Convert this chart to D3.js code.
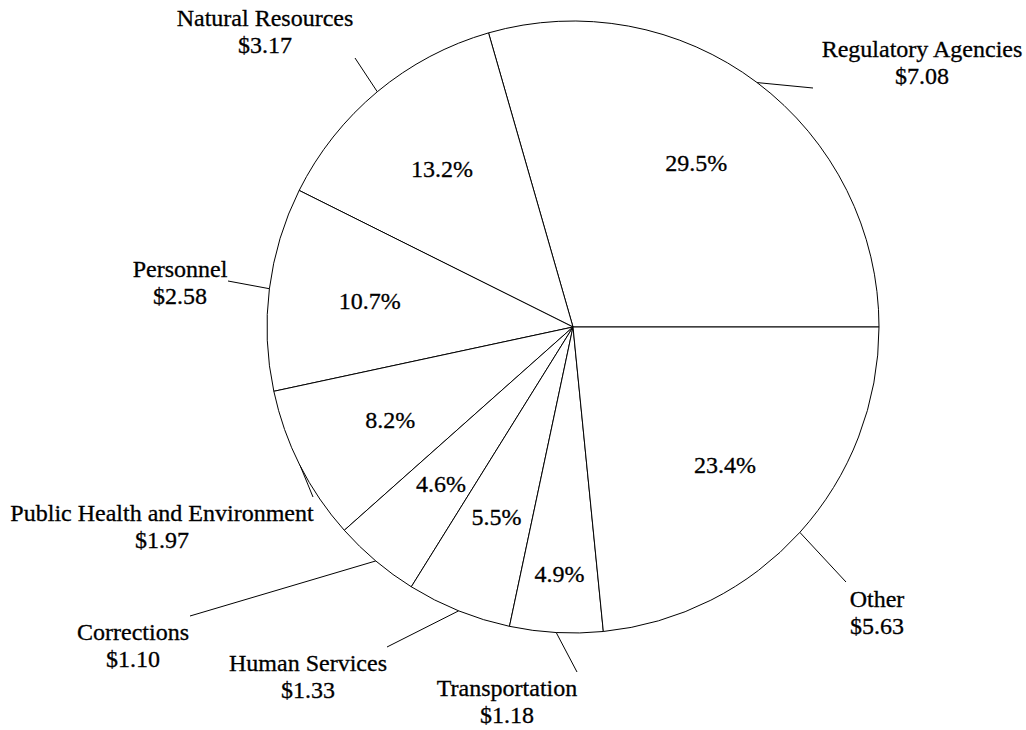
<!DOCTYPE html>
<meta charset="utf-8">
<style>
body { margin: 0; background: #fff; }
.slices path { fill: #fff; stroke: #000; stroke-width: 1px; }
.leaders line { stroke: #000; stroke-width: 1px; }
</style>
<svg></svg>
<script src="https://d3js.org/d3.v7.min.js"></script>
<script>

var categories = ["Regulatory Agencies", "Natural Resources", "Personnel",
  "Public Health and Environment", "Corrections", "Human Services",
  "Transportation", "Other"];
var amounts = [7.08, 3.17, 2.58, 1.97, 1.10, 1.33, 1.18, 5.63];

var width = 1026, height = 730;
var cx = 573, cy = 327, radius = 306;
var serif = "'Liberation Serif', 'Times New Roman', Times, serif";

// hand placed label spots, relative to pie centre (like the original)
var layout = {
  "Regulatory Agencies":           {end: [240, -239], label: [349, -270]},
  "Natural Resources":             {end: [-218, -269], label: [-308, -301]},
  "Personnel":                     {end: [-345, -46], label: [-393, -50]},
  "Public Health and Environment": {end: [-260, 170], label: [-411, 194]},
  "Corrections":                   {end: [-383, 289], label: [-440, 313]},
  "Human Services":                {end: [-186, 320], label: [-265, 344]},
  "Transportation":                {end: [4, 345], label: [-66, 369]},
  "Other":                         {end: [273, 255], label: [304, 280]}
};
var pctRadius = {"Transportation": 247};

var svg = d3.select("svg")
    .attr("width", width)
    .attr("height", height)
    .attr("font-family", serif)
    .attr("font-size", 24);

var g = svg.append("g")
    .attr("transform", "translate(" + cx + "," + cy + ")");

var total = d3.sum(amounts);
var data = categories.map(function(c, i) { return {name: c, value: amounts[i]}; });

var pie = d3.pie()
    .sort(null)
    .value(function(d) { return d.value; })
    .startAngle(Math.PI / 2)
    .endAngle(Math.PI / 2 - 2 * Math.PI);

var arcs = pie(data);

var arc = d3.arc().innerRadius(0).outerRadius(radius);

g.append("g").attr("class", "slices")
  .selectAll("path")
  .data(arcs)
  .enter().append("path")
    .attr("d", arc);

function polar(a, r) { return [Math.sin(a) * r, -Math.cos(a) * r]; }
function mid(d) { return (d.startAngle + d.endAngle) / 2; }

// leader lines
g.append("g").attr("class", "leaders")
  .selectAll("line")
  .data(arcs)
  .enter().append("line")
    .attr("x1", function(d) { return polar(mid(d), radius)[0]; })
    .attr("y1", function(d) { return polar(mid(d), radius)[1]; })
    .attr("x2", function(d) { return layout[d.data.name].end[0]; })
    .attr("y2", function(d) { return layout[d.data.name].end[1]; });

// percentages inside
var fmt = d3.format(".1%");
g.append("g").attr("class", "pct")
  .selectAll("text")
  .data(arcs)
  .enter().append("text")
    .attr("text-anchor", "middle")
    .attr("stroke", "#000")
    .attr("stroke-width", 0.3)
    .attr("x", function(d) { return polar(mid(d), pctRadius[d.data.name] || 205)[0]; })
    .attr("y", function(d) { return polar(mid(d), pctRadius[d.data.name] || 205)[1] + 8; })
    .text(function(d) { return fmt(d.value / total); });

// outside labels: name + dollars
var lab = g.append("g").attr("class", "labels")
  .selectAll("text")
  .data(arcs)
  .enter().append("text")
    .attr("text-anchor", "middle")
    .attr("stroke", "#000")
    .attr("stroke-width", 0.3)
    .attr("transform", function(d) {
      var p = layout[d.data.name].label;
      return "translate(" + p[0] + "," + p[1] + ")";
    });

lab.append("tspan")
    .attr("x", 0)
    .text(function(d) { return d.data.name; });
lab.append("tspan")
    .attr("x", 0)
    .attr("dy", 26.5)
    .text(function(d) { return "$" + d.data.value.toFixed(2); });

</script>
